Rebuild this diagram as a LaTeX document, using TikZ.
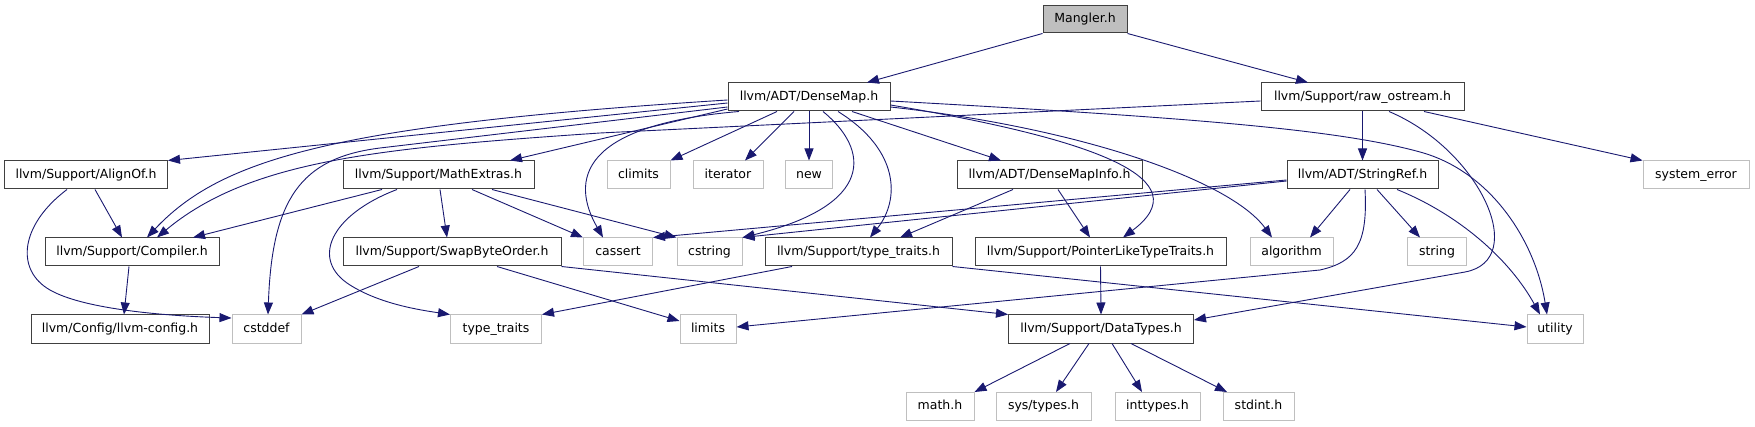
\documentclass[tikz,border=0pt]{standalone}
\usepackage{fontspec}
\setmainfont{DejaVu Sans}
\usepackage{tikz}
\usetikzlibrary{arrows.meta}
\definecolor{edgeblue}{HTML}{191970}
\definecolor{extgray}{HTML}{BFBFBF}
\tikzstyle{box} = [rectangle, minimum height=28pt, inner sep=0pt, text height=9.4pt, text depth=2.6pt, text centered, draw=black!75, line width=1pt, fill=white, font=\fontsize{12.5}{14}\selectfont]
\tikzstyle{ext} = [box, draw=extgray]
\tikzstyle{root} = [box, fill=extgray]
\tikzstyle{arrow} = [line width=0.9pt, draw=edgeblue, ->, >={Triangle[length=12pt,width=9pt]}]

\begin{document}
\begin{tikzpicture}[x=1pt, y=-1pt, node distance=78pt]
          \useasboundingbox (0,0) rectangle (1755,427);
          \node (mangler) [root, minimum width=84pt, minimum height=27pt] at (1085,19.5) {Mangler.h};
          \node (dmap) [box, minimum width=162pt] at (809,97) {llvm/ADT/DenseMap.h};
          \node (rawos) [box, minimum width=203pt, right of=dmap, xshift=475.5pt] {llvm/Support/raw\_ostream.h};
          \node (alignof) [box, minimum width=163pt] at (86,175) {llvm/Support/AlignOf.h};
          \node (mathx) [box, minimum width=191pt, right of=alignof, xshift=274.5pt] {llvm/Support/MathExtras.h};
          \node (climits) [ext, minimum width=63pt, right of=mathx, xshift=122pt] {climits};
          \node (iterator) [ext, minimum width=70pt, right of=climits, xshift=11.5pt] {iterator};
          \node (new) [ext, minimum width=47pt, right of=iterator, xshift=3pt] {new};
          \node (dmapinfo) [box, minimum width=185pt, right of=new, xshift=162.5pt] {llvm/ADT/DenseMapInfo.h};
          \node (sref) [box, minimum width=151pt, right of=dmapinfo, xshift=235pt] {llvm/ADT/StringRef.h};
          \node (syserr) [ext, minimum width=106pt, right of=sref, xshift=255.5pt] {system\_error};
          \node (compiler) [box, minimum width=174pt] at (132,252) {llvm/Support/Compiler.h};
          \node (swapbo) [box, minimum width=218pt, right of=compiler, xshift=242pt] {llvm/Support/SwapByteOrder.h};
          \node (cassert) [ext, minimum width=69pt, right of=swapbo, xshift=88pt] {cassert};
          \node (cstring) [ext, minimum width=65pt, right of=cassert, xshift=13.5pt] {cstring};
          \node (ttraitsh) [box, minimum width=187pt, right of=cstring, xshift=71pt] {llvm/Support/type\_traits.h};
          \node (ptrlike) [box, minimum width=251pt, right of=ttraitsh, xshift=164pt] {llvm/Support/PointerLikeTypeTraits.h};
          \node (algorithm) [ext, minimum width=83pt, right of=ptrlike, xshift=113pt] {algorithm};
          \node (string) [ext, minimum width=59pt, right of=algorithm, xshift=67.5pt] {string};
          \node (llvmcfg) [box, minimum width=178pt] at (120,329) {llvm/Config/llvm-config.h};
          \node (cstddef) [ext, minimum width=69pt, right of=llvmcfg, xshift=68.5pt] {cstddef};
          \node (typetraits) [ext, minimum width=91pt, right of=cstddef, xshift=151.5pt] {type\_traits};
          \node (limits) [ext, minimum width=56pt, right of=typetraits, xshift=134pt] {limits};
          \node (dtypes) [box, minimum width=185pt, right of=limits, xshift=315pt] {llvm/Support/DataTypes.h};
          \node (utility) [ext, minimum width=56pt, right of=dtypes, xshift=376pt] {utility};
          \node (mathh) [ext, minimum width=68pt] at (940,406.5) {math.h};
          \node (systypes) [ext, minimum width=95pt, right of=mathh, xshift=25.5pt] {sys/types.h};
          \node (inttypes) [ext, minimum width=85pt, right of=systypes, xshift=36pt] {inttypes.h};
          \node (stdint) [ext, minimum width=71pt, right of=inttypes, xshift=23pt] {stdint.h};
          \draw [arrow] (mangler.south west) -- ([xshift=58pt]dmap.north);
          \draw [arrow] (mangler.south east) -- ([xshift=-54.5pt]rawos.north);
          \draw [arrow] ([yshift=-6pt]dmap.west) -- (alignof.north east);
          \draw [arrow] ([yshift=-3pt]dmap.west) .. controls (330,125) and (220,160) .. ([xshift=15pt]compiler.north);
          \draw [arrow] ([yshift=-10pt]dmap.west) -- (380,148) .. controls (300,158) and (272,200) .. ([xshift=1.5pt]cstddef.north);
          \draw [arrow] ([yshift=-12pt]dmap.west) -- ([xshift=71.5pt]mathx.north);
          \draw [arrow] ([xshift=-70pt]dmap.south) .. controls (580,125) and (570,180) .. ([xshift=-15pt]cassert.north);
          \draw [arrow] ([xshift=-32pt]dmap.south) -- (climits.north east);
          \draw [arrow] ([xshift=-15pt]dmap.south) -- ([xshift=17pt]iterator.north);
          \draw [arrow] (dmap.south) -- (new.north);
          \draw [arrow] ([xshift=14pt]dmap.south) .. controls (870,150) and (875,205) .. (cstring.north east);
          \draw [arrow] ([xshift=29pt]dmap.south) .. controls (900,150) and (900,200) .. ([xshift=11.5pt]ttraitsh.north);
          \draw [arrow] ([xshift=43pt]dmap.south) -- ([xshift=-48.5pt]dmapinfo.north);
          \draw [arrow] ([yshift=-8pt]dmap.east) .. controls (1100,140) and (1200,180) .. ([xshift=22.5pt]ptrlike.north);
          \draw [arrow] ([yshift=-10pt]dmap.east) .. controls (1080,128) and (1230,180) .. ([xshift=-19.5pt]algorithm.north);
          \draw [arrow] ([yshift=-4pt]dmap.east) .. controls (1200,118) and (1340,130) .. (1420,152) .. controls (1490,171) and (1535,240) .. ([xshift=-8pt]utility.north);
          \draw [arrow] ([yshift=-4pt]rawos.west) -- (600,133) .. controls (380,148) and (250,160) .. ([xshift=25pt]compiler.north);
          \draw [arrow] (rawos.south) -- (sref.north);
          \draw [arrow] ([xshift=61.5pt]rawos.south) -- (syserr.north west);
          \draw [arrow] ([xshift=26.5pt]rawos.south) .. controls (1480,150) and (1530,260) .. (1465,272) -- ([yshift=9pt]dtypes.east);
          \draw [arrow] ([yshift=-5pt]sref.west) -- (cassert.north east);
          \draw [arrow] ([yshift=-6pt]sref.west) -- (cstring.north east);
          \draw [arrow] ([xshift=-12.5pt]sref.south) -- ([xshift=18.5pt]algorithm.north);
          \draw [arrow] ([xshift=14.5pt]sref.south) -- ([xshift=-17pt]string.north);
          \draw [arrow] ([xshift=34.5pt]sref.south) .. controls (1460,215) and (1510,260) .. ([xshift=-15pt]utility.north);
          \draw [arrow] ([xshift=2.5pt]sref.south) .. controls (1368,245) and (1355,262) .. (1320,270) -- ([yshift=2pt]limits.east);
          \draw [arrow] ([xshift=9pt]alignof.south) -- ([xshift=-10pt]compiler.north);
          \draw [arrow] ([xshift=-19pt]alignof.south) .. controls (20,225) and (15,270) .. (50,290) .. controls (85,310) and (170,316) .. ([yshift=11pt]cstddef.west);
          \draw [arrow] ([xshift=-3pt]compiler.south) -- ([xshift=4pt]llvmcfg.north);
          \draw [arrow] ([xshift=-56.5pt]mathx.south) -- ([xshift=61pt]compiler.north);
          \draw [arrow] ([xshift=1.5pt]mathx.south) -- ([xshift=-5pt]swapbo.north);
          \draw [arrow] ([xshift=33.5pt]mathx.south) -- (cassert.north west);
          \draw [arrow] ([xshift=53.5pt]mathx.south) -- (cstring.north west);
          \draw [arrow] ([xshift=-41.5pt]mathx.south) .. controls (330,215) and (310,260) .. (350,285) .. controls (380,304) and (420,310) .. (typetraits.north west);
          \draw [arrow] ([xshift=-33pt]swapbo.south) -- (cstddef.north east);
          \draw [arrow] ([xshift=45pt]swapbo.south) -- ([yshift=8pt]limits.west);
          \draw [arrow] (swapbo.south east) -- (dtypes.north west);
          \draw [arrow] ([xshift=-66.5pt]ttraitsh.south) -- (typetraits.north east);
          \draw [arrow] (ttraitsh.south east) -- ([yshift=2pt]utility.west);
          \draw [arrow] ([xshift=-36.5pt]dmapinfo.south) -- ([xshift=41.5pt]ttraitsh.north);
          \draw [arrow] ([xshift=8.5pt]dmapinfo.south) -- ([xshift=-10.5pt]ptrlike.north);
          \draw [arrow] (ptrlike.south) -- (dtypes.north);
          \draw [arrow] ([xshift=-31pt]dtypes.south) -- (mathh.north east);
          \draw [arrow] ([xshift=-12pt]dtypes.south) -- ([xshift=12.5pt]systypes.north);
          \draw [arrow] ([xshift=11pt]dtypes.south) -- ([xshift=-15.5pt]inttypes.north);
          \draw [arrow] ([xshift=30pt]dtypes.south) -- ([xshift=-31.5pt]stdint.north);
        \end{tikzpicture}
\end{document}
